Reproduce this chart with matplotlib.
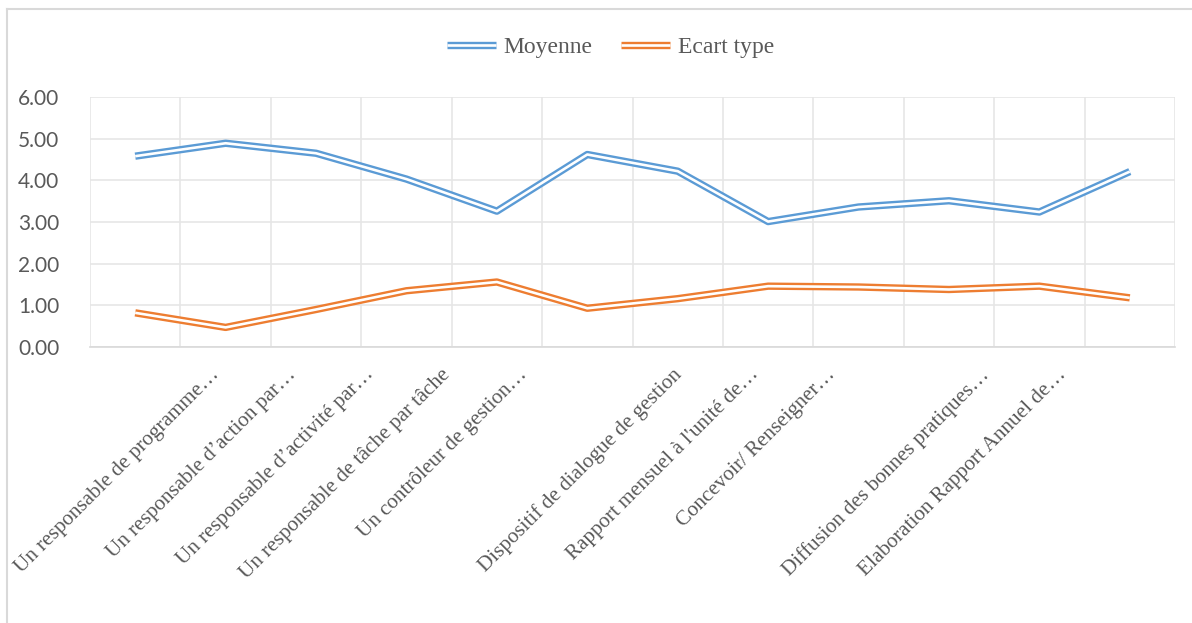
import matplotlib.pyplot as plt
import matplotlib.patheffects as pe
from matplotlib.lines import Line2D
import numpy as np

# données
categories = [
    "Un responsable de programme…",
    "Un responsable d’action par…",
    "Un responsable d’activité par…",
    "Un responsable de tâche par tâche",
    "Un contrôleur de gestion…",
    "",
    "Dispositif de dialogue de gestion",
    "Rapport mensuel à l'unité de…",
    "Concevoir/ Renseigner…",
    "",
    "Diffusion des bonnes pratiques…",
    "Elaboration Rapport Annuel de…",
]
moyenne = [4.58, 4.89, 4.65, 4.03, 3.26, 4.62, 4.22, 3.01, 3.36, 3.51, 3.24, 4.21]
ecart_type = [0.82, 0.47, 0.90, 1.35, 1.56, 0.93, 1.16, 1.46, 1.44, 1.38, 1.46, 1.18]

blue = '#5B9BD5'
orange = '#ED7D31'
grey_txt = '#595959'
grid_c = '#E6E6E6'


def double_line(color):
    # trait double façon Excel
    return [pe.Stroke(linewidth=5.3, foreground=color, capstyle='butt'),
            pe.Stroke(linewidth=1.9, foreground='white', capstyle='butt')]


fig = plt.figure(figsize=(11.92, 6.23), dpi=100)
ax = fig.add_axes([90 / 1192, 1 - 347 / 623, 1085 / 1192, 250 / 623])

x = np.arange(len(categories))
ax.plot(x, moyenne, lw=5, color=blue, path_effects=double_line(blue), label='Moyenne')
ax.plot(x, ecart_type, lw=5, color=orange, path_effects=double_line(orange), label='Ecart type')

ax.set_xlim(-0.5, len(categories) - 0.5)
ax.set_ylim(0, 6)
ax.set_yticks(np.arange(0, 7, 1))
ax.set_yticklabels([f'{v:.2f}' for v in np.arange(0, 7, 1)],
                   fontfamily='Lato', fontsize=15, color=grey_txt)
ax.tick_params(axis='y', length=0, pad=22)

# étiquettes de catégories (placement Excel, légèrement resserré)
label_pos = 0.83 + 0.851 * x
ax.set_xticks(label_pos)
ax.set_xticklabels(categories, rotation=45, ha='right', va='top',
                   rotation_mode='anchor', fontfamily='Liberation Serif',
                   fontsize=15.2, color=grey_txt)
ax.tick_params(axis='x', which='major', length=0, pad=13)
ax.set_xticks(np.arange(-0.5, len(categories), 1), minor=True)
ax.tick_params(axis='x', which='minor', length=0)

ax.xaxis.grid(False, which='major')
ax.xaxis.grid(True, which='minor', color=grid_c, lw=1.2)
ax.yaxis.grid(True, color=grid_c, lw=1.2)
ax.set_axisbelow(True)
for s in ['top', 'right', 'left']:
    ax.spines[s].set_visible(False)
ax.spines['bottom'].set_color('#D9D9D9')
ax.spines['bottom'].set_linewidth(1.2)

fig.legend(loc='center', bbox_to_anchor=(0.512, 1 - 47 / 623), ncol=2,
           frameon=False, prop={'family': 'Liberation Serif', 'size': 17},
           labelcolor=grey_txt, handlelength=2.1, handletextpad=0.3,
           columnspacing=1.2)

# cadre du graphique
fig.add_artist(Line2D([7 / 1192, 1], [1 - 9 / 623, 1 - 9 / 623], color='#D9D9D9', lw=1.5))
fig.add_artist(Line2D([7 / 1192, 7 / 1192], [0, 1 - 9 / 623], color='#D9D9D9', lw=1.5))

fig.savefig('out.png', dpi=100)
